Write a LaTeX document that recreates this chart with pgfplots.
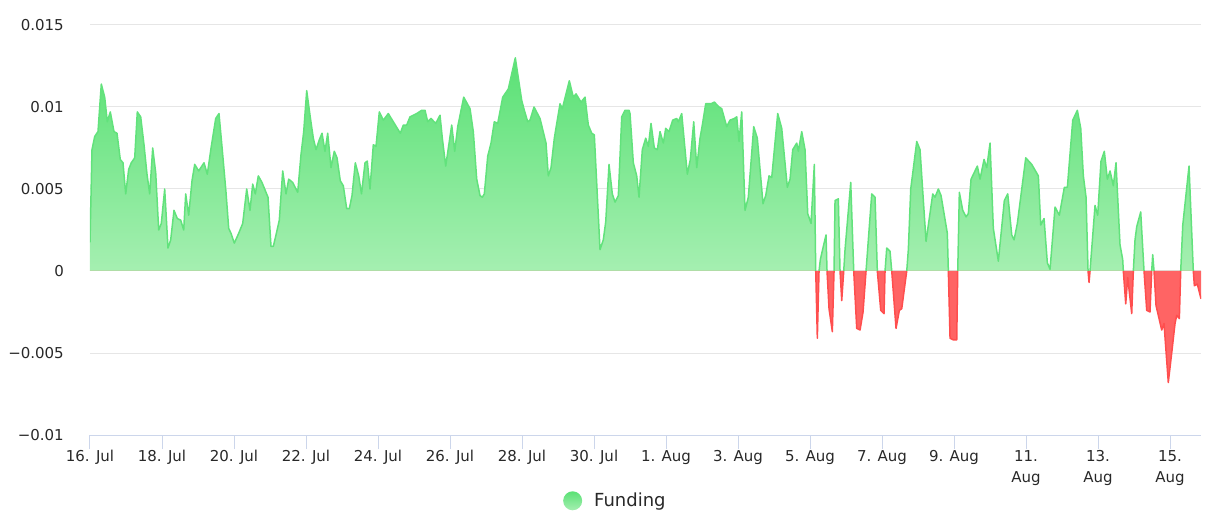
\documentclass[border=0pt]{standalone}
\usepackage{pgfplots}
\pgfplotsset{compat=1.18}
\usepackage{pgfplotstable}
\usepackage{fontspec}
\setmainfont{DejaVu Sans}
\definecolor{gtop}{RGB}{90,225,117}
\definecolor{gbot}{RGB}{165,239,177}
\definecolor{gline}{RGB}{98,226,124}
\definecolor{rfill}{RGB}{255,100,100}
\definecolor{rline}{RGB}{255,78,78}
\definecolor{gridc}{RGB}{230,230,230}
\definecolor{axc}{RGB}{204,214,235}
\definecolor{txt}{RGB}{40,40,40}
\pgfplotstableread{
px v
90 0.00175
92 0.0074
94.7 0.0082
98 0.0085
101.3 0.0114
104.7 0.0106
107.3 0.0091
110.3 0.0097
114 0.0085
117 0.0084
120.3 0.0068
123 0.0066
125.7 0.0047
128.7 0.0062
131.3 0.0066
134.7 0.0069
137.3 0.0097
140.7 0.0094
144 0.0077
147 0.0059
149.7 0.0047
152.7 0.0075
155.7 0.0060
158.7 0.0025
161.3 0.0029
164.7 0.0050
168 0.0014
170.7 0.0019
174 0.0037
177.3 0.0032
180.7 0.0031
183.7 0.0025
185.7 0.0047
188.7 0.0034
192 0.0055
194.7 0.0065
198.7 0.0061
204 0.0066
207.3 0.0059
211.3 0.0076
215.7 0.0093
219 0.0096
223 0.0069
226 0.0048
228.7 0.0026
231 0.0023
234.3 0.0017
238.7 0.0023
242.7 0.0029
246.7 0.0050
250 0.0037
252.7 0.0053
255.3 0.0047
258.3 0.0058
262 0.0054
265.3 0.0049
268 0.0045
271 0.0015
273.3 0.0015
276 0.0022
279.3 0.0031
282.7 0.0061
286 0.0047
288.7 0.0056
292.7 0.0054
297.7 0.0048
301 0.0071
303.7 0.0085
306.7 0.0110
310 0.0095
313.3 0.0081
316 0.0074
319.3 0.0080
322 0.0084
325 0.0073
327.7 0.0084
331 0.0063
334.3 0.0073
337 0.0069
340.3 0.0055
343.3 0.0052
346.7 0.0038
349.3 0.0038
352 0.0046
355.3 0.0066
358.7 0.0058
361.5 0.0047
365 0.0066
367.3 0.0067
370 0.0050
373.3 0.0077
376 0.0076
379.3 0.0097
383.3 0.0092
388.3 0.0096
394.3 0.0090
400.3 0.0084
403.3 0.0089
406.7 0.0089
410 0.0094
416.7 0.0096
421.7 0.0098
425 0.0098
427.7 0.0091
431 0.0093
435.7 0.0090
440 0.0095
442.3 0.0081
445.7 0.0064
451.7 0.0089
454.7 0.0073
457.7 0.0088
463.7 0.0106
470 0.0099
473.3 0.0085
476.7 0.0056
480 0.0046
482.3 0.0045
484.3 0.0047
487.7 0.0070
491 0.0078
494.3 0.0091
497.7 0.0090
502.7 0.0106
508.3 0.0111
515.3 0.0130
521.7 0.0104
524.3 0.0098
527.7 0.0091
530 0.0092
534 0.0100
540 0.0093
546 0.0078
548.3 0.0058
551 0.0063
554.3 0.0081
560 0.0102
562.3 0.0099
569.3 0.0116
573.3 0.0106
576 0.0108
581 0.0103
585 0.0106
588.3 0.0089
591.7 0.0084
594.3 0.0083
600 0.0013
603.3 0.0019
605.7 0.0030
609 0.0065
612.3 0.0047
615 0.0042
618.3 0.0046
621.7 0.0094
625 0.0098
629 0.0098
630 0.0096
633.3 0.0066
636.7 0.0058
639 0.0045
642.3 0.0074
645.7 0.0081
648.3 0.0076
651 0.0090
654.3 0.0075
657.3 0.0074
660 0.0085
663.3 0.0078
665.7 0.0087
669 0.0085
672.7 0.0092
676.7 0.0093
678.3 0.0091
681.7 0.0096
687.3 0.0059
690.3 0.0068
693.7 0.0091
696.7 0.0063
700 0.0081
702.3 0.0089
705.7 0.0102
711 0.0102
714.3 0.0103
719 0.0100
721.7 0.0099
726.7 0.0088
730 0.0092
734.3 0.0093
736.7 0.0094
739 0.0079
741.7 0.0097
745 0.0037
748.3 0.0045
753.7 0.0088
757.3 0.0081
763 0.0041
765.7 0.0046
769 0.0058
771.7 0.0057
777.7 0.0096
781.7 0.0087
787.3 0.0051
790 0.0056
792.7 0.0074
796.7 0.0078
798.3 0.0073
801.7 0.0085
805 0.0074
807.7 0.0035
811 0.0029
814.3 0.0065
815.7 0
817.3 -0.0041
819 0
820.3 0.0007
823.3 0.0015
826 0.0022
827 0
829 -0.0023
832.3 -0.0037
834 0
835 0.0043
838.3 0.0044
840 0
841.7 -0.0018
843.7 0
845 0.0013
850.7 0.0054
853.7 0
856.7 -0.0035
860 -0.0036
863 -0.0025
866 0
871.7 0.0047
875 0.0045
877.3 0
880.7 -0.0024
884 -0.0026
885 0
886.7 0.0014
890 0.0012
891.7 0
896 -0.0035
899.3 -0.0024
901.7 -0.0023
906.7 0
908.3 0.0013
910.7 0.0050
916.7 0.0079
920 0.0074
926 0.0018
928.3 0.0028
932.7 0.0047
935 0.0045
938.3 0.0050
941 0.0046
947.3 0.0023
948.3 0
950 -0.0041
953.3 -0.0042
956.7 -0.0042
957.7 0
959.3 0.0048
962.7 0.0037
966 0.0033
968.3 0.0035
971 0.0056
977.3 0.0064
980 0.0056
984 0.0068
986.7 0.0063
990 0.0078
993.3 0.0026
998.3 0.0006
1004.3 0.0043
1007.7 0.0047
1011.7 0.0022
1014 0.0019
1017.3 0.0029
1025.7 0.0069
1031.7 0.0065
1038.3 0.0058
1040.7 0.0028
1044 0.0032
1047.3 0.0005
1050 0.0001
1055 0.0039
1059.3 0.0034
1064.3 0.0051
1067.3 0.0051
1072.7 0.0092
1077.3 0.0098
1080.7 0.0087
1083.3 0.0058
1086 0.0045
1088 0
1089 -0.0007
1090 0
1095 0.0040
1097.7 0.0034
1101 0.0067
1104.3 0.0073
1107.3 0.0056
1110 0.0061
1113.3 0.0052
1116 0.0066
1120 0.0016
1122.7 0.0007
1123.3 0
1125.7 -0.0020
1127.7 -0.0004
1131.7 -0.0026
1133.3 0
1135 0.0019
1136.7 0.0027
1140.7 0.0036
1144 0
1146.7 -0.0024
1150 -0.0025
1151.7 0
1152.7 0.0010
1154 0
1156 -0.0021
1161.7 -0.0036
1164 -0.0032
1168.3 -0.0068
1171.7 -0.0050
1175 -0.0032
1176.7 -0.0027
1179.3 -0.0029
1180.7 0
1182.7 0.0028
1189 0.0064
1193.3 0
1194.3 -0.0009
1197.3 -0.0008
1201 -0.0017
}\funding
\begin{document}
\begin{tikzpicture}
\useasboundingbox (-90pt,-87pt) rectangle (1125pt,435pt);
\begin{axis}[
  at={(0,0)}, anchor=south west,
  scale only axis, width=1111pt, height=410pt,
  xmin=0, xmax=30.86, ymin=-0.01, ymax=0.015,
  scaled y ticks=false,
  axis x line*=bottom, axis y line*=left,
  x axis line style={axc, line width=1pt},
  y axis line style={draw=none},
  xtick={0,2,...,30},
  xticklabels={16. Jul,18. Jul,20. Jul,22. Jul,24. Jul,26. Jul,28. Jul,30. Jul,1. Aug,3. Aug,5. Aug,7. Aug,9. Aug,{11.\\Aug},{13.\\Aug},{15.\\Aug}},
  ytick={-0.01,-0.005,0,0.005,0.01,0.015},
  yticklabels={−0.01,−0.005,0,0.005,0.01,0.015},
  ymajorgrids, grid style={gridc, line width=1pt},
  tick align=outside, major tick length=14pt,
  xtick style={axc, line width=1pt},
  ytick style={draw=none},
  xticklabel style={font=\fontsize{15}{21}\selectfont, text=txt, align=center, inner sep=0pt, anchor=north, yshift=-1pt},
  yticklabel style={font=\fontsize{15}{18}\selectfont, text=txt, inner sep=0pt, anchor=east, xshift=-12pt},
  legend style={at={(0.4257,-0.1605)}, anchor=west, draw=none, fill=none,
    font=\fontsize{18}{22}\selectfont, text=txt, inner sep=0pt},
  x filter/.expression={(x-90)/36},
]
\addplot[forget plot, draw=none, top color=gtop, bottom color=gbot, y filter/.expression={max(y,0)}] table[x=px,y=v]{\funding} \closedcycle;
\addplot[forget plot, draw=none, fill=rfill, y filter/.expression={min(y,0)}] table[x=px,y=v]{\funding} \closedcycle;
\addplot[forget plot, gline, line width=1.5pt, line join=round, unbounded coords=jump, y filter/.expression={y<0 ? nan : y}] table[x=px,y=v]{\funding};
\addplot[forget plot, rline, line width=1.5pt, line join=round, unbounded coords=jump, y filter/.expression={y>0 ? nan : y}] table[x=px,y=v]{\funding};
\addlegendimage{legend image code/.code={\path[draw=none, fill=none] (0pt,-1pt) rectangle (29pt,1pt); \shade[draw=none, top color=gtop, bottom color=gbot] (9.5pt,0pt) circle (9.5pt);}}
\addlegendentry{Funding}
\end{axis}
\end{tikzpicture}
\end{document}
